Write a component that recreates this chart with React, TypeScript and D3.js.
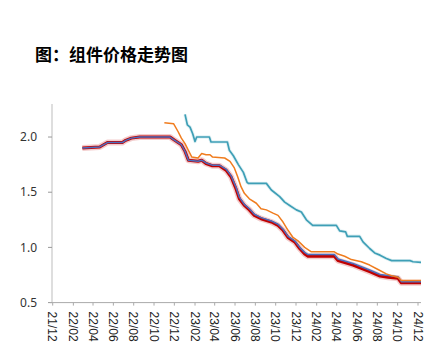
import React from "react";
import * as d3 from "d3";

const title = "图：组件价格走势图";
const xTickLabels = ["21/12","22/02","22/04","22/06","22/08","22/10","22/12","23/02","23/04","23/06","23/08","23/10","23/12","24/02","24/04","24/06","24/08","24/10","24/12"];
const yTicks = [0.5, 1.0, 1.5, 2.0];

const redDates = ["2022-02-28","2022-04-21","2022-05-14","2022-06-28","2022-07-08","2022-07-25","2022-08-19","2022-11-18","2022-12-02","2022-12-22","2023-01-02","2023-01-12","2023-02-10","2023-02-21","2023-03-06","2023-03-25","2023-04-15","2023-05-05","2023-05-20","2023-06-04","2023-06-14","2023-06-29","2023-07-14","2023-07-29","2023-08-18","2023-09-18","2023-10-08","2023-10-23","2023-11-07","2023-11-27","2023-12-12","2023-12-27","2024-01-06","2024-03-25","2024-04-05","2024-05-20","2024-06-14","2024-07-09","2024-08-09","2024-09-02","2024-10-02","2024-10-12","2024-12-10"];
const redValues = [1.90,1.91,1.95,1.95,1.97,1.99,2.00,2.00,1.97,1.93,1.87,1.79,1.78,1.79,1.76,1.74,1.74,1.70,1.64,1.53,1.44,1.38,1.34,1.29,1.26,1.23,1.20,1.155,1.09,1.05,0.99,0.94,0.92,0.92,0.88,0.84,0.81,0.78,0.74,0.73,0.72,0.68,0.68];
const blueValues = [1.90,1.91,1.95,1.95,1.97,1.99,2.00,2.00,1.97,1.93,1.87,1.79,1.78,1.79,1.765,1.745,1.745,1.71,1.65,1.545,1.455,1.39,1.35,1.30,1.27,1.24,1.21,1.165,1.10,1.06,1.00,0.955,0.935,0.935,0.895,0.855,0.825,0.795,0.755,0.745,0.735,0.69,0.69];

const orangeDates = ["2022-11-01","2022-11-29","2022-12-12","2022-12-22","2023-01-02","2023-01-12","2023-01-22","2023-02-10","2023-02-21","2023-03-06","2023-03-18","2023-03-25","2023-05-01","2023-05-17","2023-05-30","2023-06-09","2023-06-19","2023-06-29","2023-07-14","2023-08-04","2023-08-18","2023-09-03","2023-09-23","2023-10-08","2023-10-23","2023-11-07","2023-11-22","2023-12-07","2023-12-27","2024-01-16","2024-03-25","2024-04-05","2024-04-25","2024-05-15","2024-06-14","2024-07-09","2024-08-03","2024-08-28","2024-09-17","2024-10-02","2024-10-12","2024-12-10"];
const orangeValues = [2.13,2.12,2.05,1.99,1.94,1.88,1.82,1.81,1.85,1.84,1.84,1.82,1.81,1.78,1.72,1.64,1.55,1.49,1.44,1.40,1.35,1.34,1.31,1.29,1.23,1.155,1.09,1.06,1.00,0.96,0.96,0.94,0.92,0.89,0.87,0.84,0.80,0.76,0.74,0.73,0.70,0.70];

const tealDates = ["2023-01-02","2023-01-09","2023-01-17","2023-01-25","2023-02-01","2023-02-06","2023-03-16","2023-03-21","2023-05-09","2023-05-15","2023-05-27","2023-06-11","2023-06-26","2023-07-07","2023-07-11","2023-09-03","2023-09-18","2023-10-13","2023-10-28","2023-11-12","2023-12-02","2023-12-17","2024-01-01","2024-01-20","2024-03-31","2024-04-10","2024-04-28","2024-05-03","2024-06-09","2024-06-19","2024-07-09","2024-07-24","2024-08-09","2024-08-28","2024-09-13","2024-11-07","2024-11-16","2024-12-10"];
const tealValues = [2.205,2.11,2.09,2.03,1.96,2.00,2.00,1.955,1.955,1.88,1.83,1.75,1.68,1.59,1.58,1.58,1.52,1.46,1.41,1.38,1.34,1.32,1.25,1.20,1.20,1.15,1.14,1.10,1.10,1.05,0.99,0.95,0.93,0.90,0.88,0.88,0.87,0.865];

const W = 429, H = 362;
const parse = d3.timeParse("%Y-%m-%d");
const parseTick = d3.timeParse("%y/%m");

type P = { date: Date; v: number };
const mk = (ds: string[], vs: number[]): P[] => ds.map((d, i) => ({ date: parse(d) as Date, v: vs[i] }));

export default function App() {
  const x = d3.scaleTime()
    .domain([new Date(2021, 11, 1), new Date(2024, 11, 1)])
    .range([52.7, 418]);
  const y = d3.scaleLinear().domain([0.5, 2.3]).range([302.6, 103.9]);
  const line = d3.line<P>().x(d => x(d.date)).y(d => y(d.v));

  const red = mk(redDates, redValues);
  const blue = mk(redDates, blueValues);
  const orange = mk(orangeDates, orangeValues);
  const teal = mk(tealDates, tealValues);
  const ticks = xTickLabels.map(t => ({ t, d: parseTick(t) as Date }));
  const axisY = y(0.5);

  return (
    <svg width={W} height={H} style={{ position: "absolute", left: 0, top: 0, background: "#fff" }}>
      <text x={35} y={61} fontFamily="Noto Sans CJK SC" fontWeight={700} fontSize={17} fill="#000">{title}</text>
      {/* y axis */}
      <line x1={52} x2={52} y1={y(2.3)} y2={axisY} stroke="#dedede" strokeWidth={2} />
      {yTicks.map(t => (
        <g key={t}>
          <line x1={48} x2={52} y1={y(t)} y2={y(t)} stroke="#999" strokeWidth={1} />
          <text x={37} y={y(t)} dy="0.35em" textAnchor="end" fontFamily="Noto Sans" fontSize={12} fill="#333">{d3.format(".1f")(t)}</text>
        </g>
      ))}
      {/* x axis */}
      <line x1={50} x2={421} y1={axisY} y2={axisY} stroke="#aaa" strokeWidth={1} />
      {ticks.map(({ t, d }) => (
        <g key={t} transform={`translate(${x(d)},${axisY})`}>
          <line y1={0} y2={3} stroke="#aaa" />
          <text transform="translate(0,9) rotate(90)" dy="0.35em" textAnchor="start" fontFamily="Liberation Sans" fontSize={12} fill="#222">{t}</text>
        </g>
      ))}
      {/* series */}
      <path d={line(teal) || ""} fill="none" stroke="#3e9fb6" strokeOpacity={0.15} strokeWidth={3.5} strokeLinejoin="round" />
      <path d={line(teal) || ""} fill="none" stroke="#3e9fb6" strokeWidth={1.7} strokeLinejoin="round" />
      <path d={line(red) || ""} fill="none" stroke="#c00000" strokeOpacity={0.2} strokeWidth={6} strokeLinejoin="round" />
      <path d={line(red) || ""} fill="none" stroke="#c00000" strokeWidth={3} strokeLinejoin="round" />
      <path d={line(blue) || ""} fill="none" stroke="#4a6fc0" strokeWidth={1.5} strokeLinejoin="round" />
      <path d={line(orange) || ""} fill="none" stroke="#f07c1e" strokeWidth={1.5} strokeLinejoin="round" />
    </svg>
  );
}
